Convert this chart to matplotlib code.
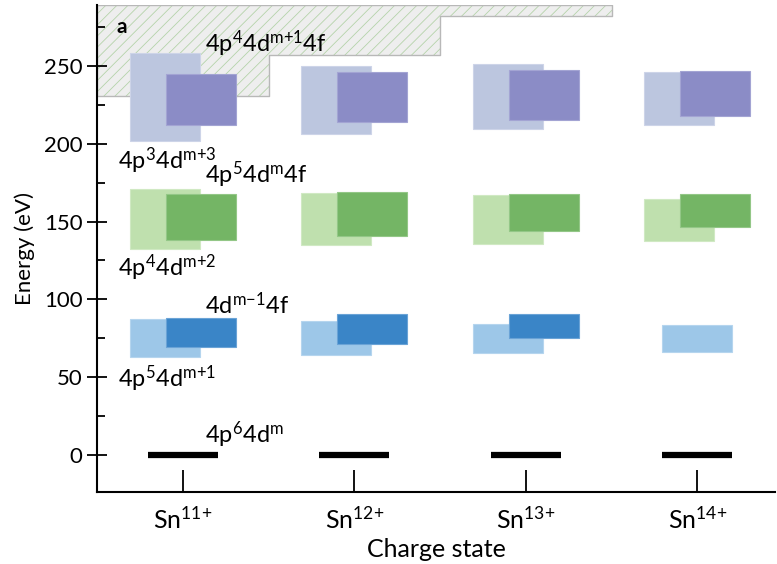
import numpy as np
import matplotlib
matplotlib.use("Agg")
import matplotlib.pyplot as plt

plt.rcParams["font.family"] = ["Lato", "DejaVu Sans"]
plt.rcParams["mathtext.default"] = "regular"
plt.rcParams["hatch.linewidth"] = 0.6

################################################################
########################### Data ###############################
################################################################

charge = ["Sn$^{11{+}}$", "Sn$^{12{+}}$", "Sn$^{13{+}}$", "Sn$^{14{+}}$"]

# 4p^3 4d^m+3 (light purple) and 4p^4 4d^m+1 4f (dark purple)
purple_lo_bot = [202.0, 206.5, 209.5, 212.2]
purple_lo_top = [258.5, 250.0, 251.0, 246.3]
purple_hi_bot = [212.0, 214.0, 215.2, 218.0]
purple_hi_top = [245.0, 246.0, 247.6, 246.7]

# 4p^4 4d^m+2 (light green) and 4p^5 4d^m 4f (dark green)
green_lo_bot = [132.5, 135.0, 135.7, 137.6]
green_lo_top = [171.0, 168.3, 166.8, 164.2]
green_hi_bot = [138.0, 140.8, 143.8, 146.4]
green_hi_top = [167.6, 169.0, 167.8, 167.6]

# 4p^5 4d^m+1 (light blue) and 4d^m-1 4f (dark blue)
blue_lo_bot = [63.2, 64.3, 65.4, 66.0]
blue_lo_top = [87.5, 86.2, 84.4, 83.8]
blue_hi_bot = [69.4, 71.4, 75.2, np.nan]
blue_hi_top = [88.0, 90.5, 90.5, np.nan]

# ground state 4p^6 4d^m
ground = [0, 0, 0, 0]

# continuum (hatched) lower edge per charge-state step
cont_edges = [0.5, 1.5, 2.5, 3.5]
cont_lower = [231.0, 257.0, 282.0]
cont_top = 289.0

################################################################
########################### Plot ###############################
################################################################

fig = plt.figure(figsize=(7.77, 5.64), dpi=100)
ax = fig.add_axes([97/777, 72/564, 678/777, 487/564])

x = np.arange(1, len(charge)+1)
w = 0.41
off = 0.105

# hatched continuum
px = [cont_edges[0]]
py = [cont_top]
for i in range(len(cont_lower)):
    px += [cont_edges[i], cont_edges[i+1]]
    py += [cont_lower[i], cont_lower[i]]
px += [cont_edges[-1], cont_edges[0]]
py += [cont_top, cont_top]
ax.fill(px, py, facecolor='#eeeeee', edgecolor='#b5d3aa', hatch='///',
        linewidth=0, zorder=1)
ax.plot(px, py, color='#b8b8b8', linewidth=1.0, zorder=1.5)

def boxes(bot, top, color, edge, shift):
    bot = np.array(bot); top = np.array(top)
    ok = ~np.isnan(bot)
    ax.bar(x[ok]+shift[ok], top[ok]-bot[ok], bottom=bot[ok], width=w,
           color=color, edgecolor=edge, linewidth=0.8, zorder=2)

lo_shift = np.full(len(x), -off)
hi_shift = np.full(len(x), off)
blue_shift = np.where(np.isnan(blue_hi_bot), 0.0, -off)

boxes(purple_lo_bot, purple_lo_top, '#bcc6df', '#cdd4e8', lo_shift)
boxes(purple_hi_bot, purple_hi_top, '#8b8cc6', '#a3a4d3', hi_shift)
boxes(green_lo_bot, green_lo_top, '#bfe0ae', '#d0e9c3', lo_shift)
boxes(green_hi_bot, green_hi_top, '#74b565', '#93c787', hi_shift)
boxes(blue_lo_bot, blue_lo_top, '#9dc7e8', '#b5d5ee', blue_shift)
boxes(blue_hi_bot, blue_hi_top, '#3a85c7', '#6aa3d6', hi_shift)

ax.hlines(ground, x-w/2, x+w/2, color='black', linewidth=4.5, zorder=3)

# labels
fs = 17
ax.text(0.615, 275, 'a', fontsize=15, fontweight='bold', va='center')
ax.text(1.13, 264, '4p$^4$4d$^{m{+}1}$4f', fontsize=fs, va='center')
ax.text(0.62, 189, '4p$^3$4d$^{m{+}3}$', fontsize=fs, va='center')
ax.text(1.13, 180, '4p$^5$4d$^m$4f', fontsize=fs, va='center')
ax.text(0.62, 120.5, '4p$^4$4d$^{m{+}2}$', fontsize=fs, va='center')
ax.text(1.13, 96.5, '4d$^{m{-}1}$4f', fontsize=fs, va='center')
ax.text(0.62, 49, '4p$^5$4d$^{m{+}1}$', fontsize=fs, va='center')
ax.text(1.13, 13, '4p$^6$4d$^m$', fontsize=fs, va='center')

ax.set_xlim(0.5, 4.453)
ax.set_ylim(-23.8, 289.2)
ax.set_xticks(x)
ax.set_xticklabels(charge, fontsize=18)
ax.set_yticks(np.arange(0, 251, 50))
ax.set_yticks(np.arange(25, 290, 50), minor=True)
ax.tick_params(axis='y', labelsize=16, direction='inout', length=14, width=1.3)
ax.tick_params(axis='y', which='minor', direction='in', length=6, width=1.3)
ax.tick_params(axis='x', direction='in', length=16, width=1.3, pad=10)

ax.set_ylabel('Energy (eV)', fontsize=16, labelpad=6)
ax.set_xlabel('Charge state', fontsize=18, labelpad=4)

for s in ['top', 'right']:
    ax.spines[s].set_visible(False)
for s in ['left', 'bottom']:
    ax.spines[s].set_linewidth(1.5)

plt.savefig('out.png', dpi=100)
